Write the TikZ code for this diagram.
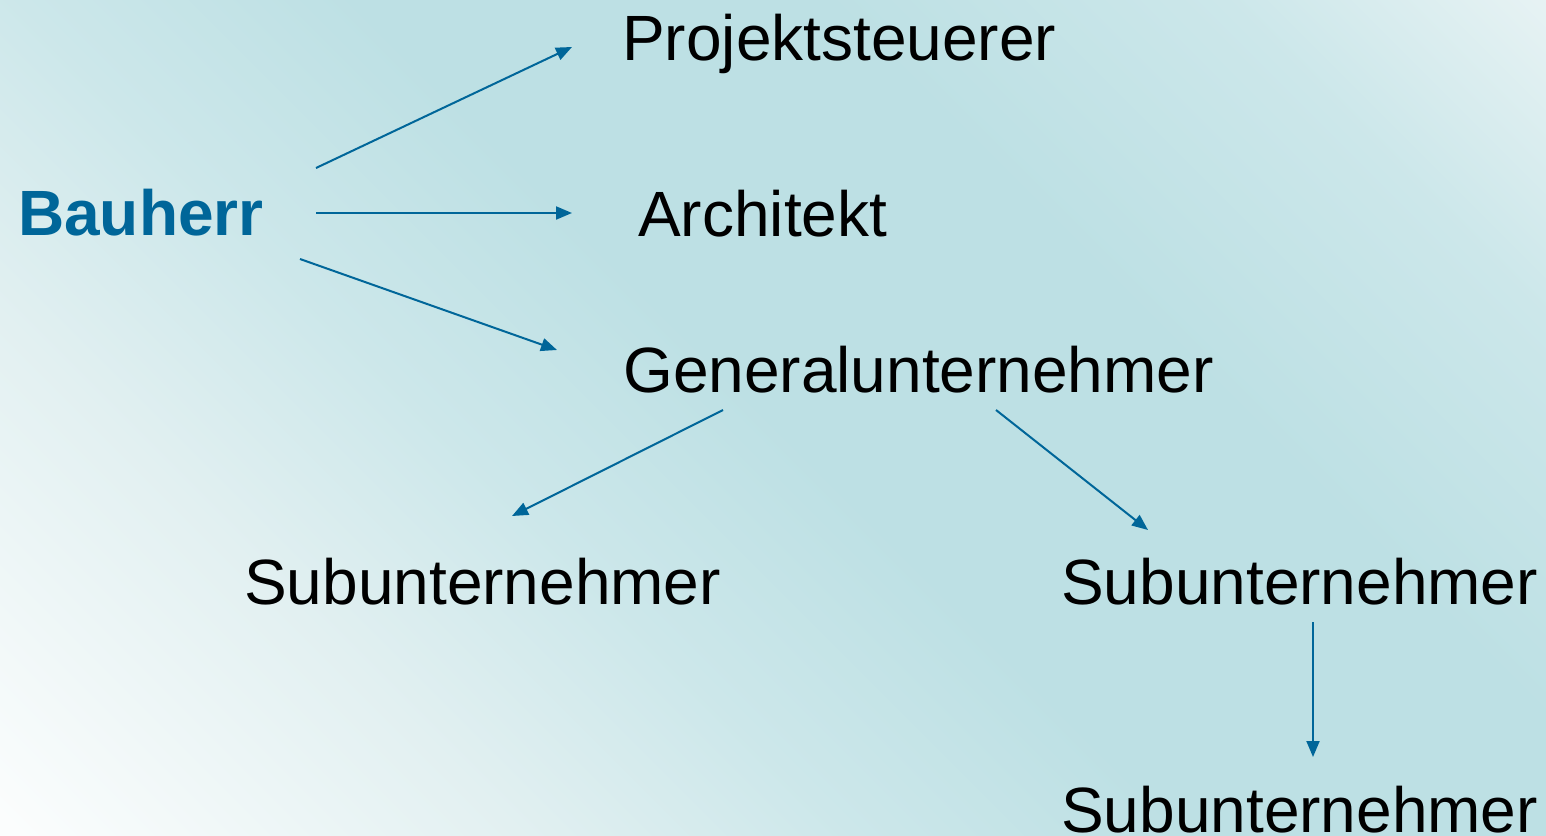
\documentclass[tikz,border=0pt]{standalone}
\usepackage{fontspec}
\setmainfont{Liberation Sans}
\usetikzlibrary{arrows.meta}
\definecolor{bhblue}{HTML}{006699}
\definecolor{bgwhite}{HTML}{FBFDFD}
\definecolor{bgpale}{HTML}{E2F0F1}
\definecolor{bgmid}{HTML}{CCE7EA}
\definecolor{bgteal}{HTML}{BDE0E4}
\definecolor{bglight}{HTML}{E8F3F4}
\pgfdeclarehorizontalshading{bgshade}{100bp}{color(0bp)=(bgwhite); color(15bp)=(bgwhite); color(30bp)=(bgpale); color(40bp)=(bgmid); color(50bp)=(bgteal); color(64bp)=(bgteal); color(76bp)=(bgmid); color(86bp)=(bglight); color(100bp)=(bglight)}
\begin{document}
\begin{tikzpicture}[x=1pt,y=-1pt,
	role/.style={anchor=base west,inner sep=0pt,font=\fontsize{64}{77}\selectfont},
	pfeil/.style={draw=bhblue,line width=2pt,-{Triangle[length=16pt,width=13pt]}}]
	\useasboundingbox (0,0) rectangle (1546,835);
	\shade[shading=bgshade,shading angle=45] (0,0) rectangle (1546,835);

	\node[role,font=\fontsize{64}{77}\selectfont\bfseries,text=bhblue] (bh) at (18,235) {Bauherr};
	\node[role] (ps) at (622,60) {Projektsteuerer};
	\node[role] (ar) at (638,236) {Architekt};
	\node[role] (gu) at (623,392) {Generalunternehmer};
	\node[role] (su1) at (244,604) {Subunternehmer};
	\node[role] (su2) at (1061,604) {Subunternehmer};
	\node[role] (su3) at (1061,832) {Subunternehmer};

	\coordinate (bh1) at (316,168);
	\coordinate (bh2) at (316,213);
	\coordinate (bh3) at (300,259);
	\coordinate (ps1) at (572,47);
	\coordinate (ar1) at (572,213);
	\coordinate (gu1) at (557,350);
	\coordinate (gu2) at (723,410);
	\coordinate (gu3) at (996,410);
	\coordinate (su1a) at (512,516);
	\coordinate (su2a) at (1148,530);
	\coordinate (su2b) at (1313,622);
	\coordinate (su3a) at (1313,757);

	\draw[pfeil] (bh1) -- (ps1);
	\draw[pfeil] (bh2) -- (ar1);
	\draw[pfeil] (bh3) -- (gu1);
	\draw[pfeil] (gu2) -- (su1a);
	\draw[pfeil] (gu3) -- (su2a);
	\draw[pfeil] (su2b) -- (su3a);
\end{tikzpicture}
\end{document}
